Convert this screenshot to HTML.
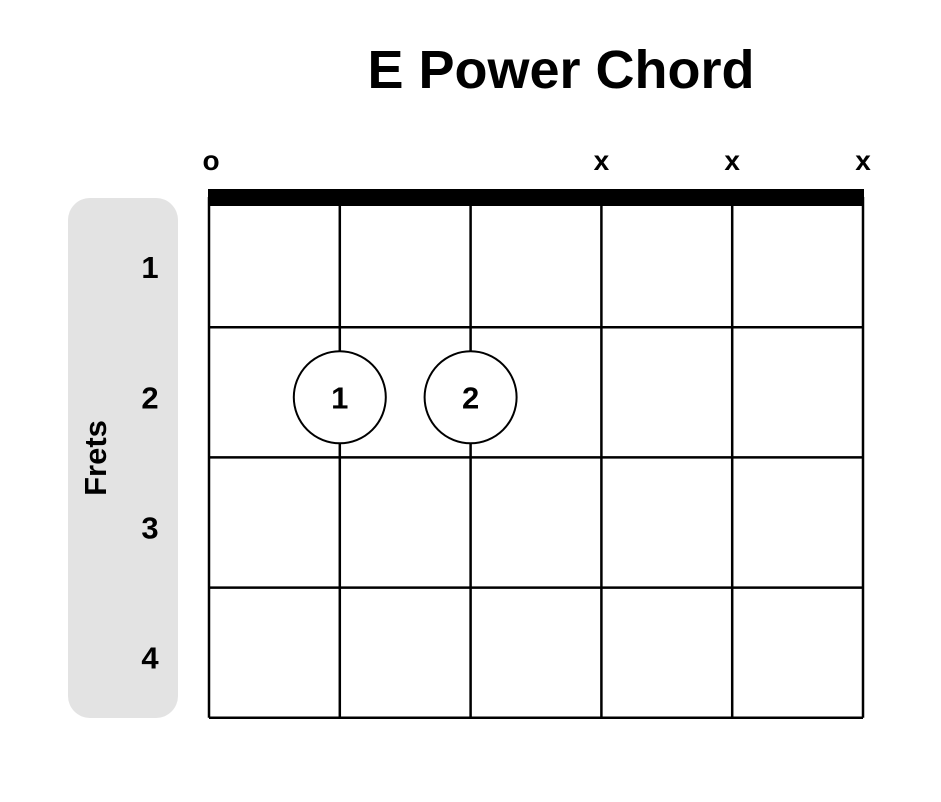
<!DOCTYPE html>
<html><head><meta charset="utf-8"><style>
body{margin:0;background:#fff}
svg{display:block;font-family:"Liberation Sans",sans-serif}
</style></head><body>
<svg id="chart" width="941" height="802">
<text x="561" y="88" text-anchor="middle" font-size="54" font-weight="bold">E Power Chord</text>
<rect x="68" y="198" width="110" height="520" rx="22" fill="#e3e3e3"/>
<text transform="translate(106,458) rotate(-90)" text-anchor="middle" font-size="31" font-weight="bold">Frets</text>
<g id="grid"></g><g id="marks"></g>
</svg>
<script>
const strings=[0,1,2,3,4,5];
const frets=[1,2,3,4];
const openMarks=["o","","","x","x","x"];
const fingerStrings=[1,2];
const fingerFrets=[2,2];
const fingerLabels=["1","2"];
const NS="http://www.w3.org/2000/svg";
const x0=209,dx=130.8,y0=197,dy=130.2;
const sx=s=>x0+s*dx, fy=f=>y0+f*dy;
const g=document.getElementById('grid'), m=document.getElementById('marks');
function mk(tag,attrs,parent,txt){const e=document.createElementNS(NS,tag);for(const k in attrs)e.setAttribute(k,attrs[k]);if(txt!==undefined)e.textContent=txt;parent.appendChild(e);return e;}
strings.forEach(s=>{
 const l=mk('line',{x1:sx(s),x2:sx(s),y1:y0,y2:fy(frets.length),stroke:'#000','stroke-width':2.5},g);
 
 
 if(openMarks[s]){const t=mk('text',{x:sx(s)+(s===0?2:0),y:170,'text-anchor':'middle','font-size':28,'font-weight':'bold'},g,openMarks[s]);
 
 }
});
frets.forEach(f=>{
 const l=mk('line',{x1:x0,x2:sx(5),y1:fy(f),y2:fy(f),stroke:'#000','stroke-width':2.5},g);
 
 
 const t=mk('text',{x:150,y:fy(f)-dy/2+16,'text-anchor':'middle','font-size':31,'font-weight':'bold'},g,String(f));
 
 
});
const nut=mk('rect',{x:x0-1,y:189,width:sx(5)-x0+2,height:17,fill:'#000'},g);


fingerStrings.forEach((s,i)=>{
 const cy=fy(fingerFrets[i])-dy/2+5;
 const c=mk('circle',{cx:sx(s),cy:cy,r:46,fill:'#fff',stroke:'#000','stroke-width':2},m);
 
 
 const t=mk('text',{x:sx(s),y:cy+11,'text-anchor':'middle','font-size':31,'font-weight':'bold'},m,fingerLabels[i]);
 
 
});
</script>
</body></html>
